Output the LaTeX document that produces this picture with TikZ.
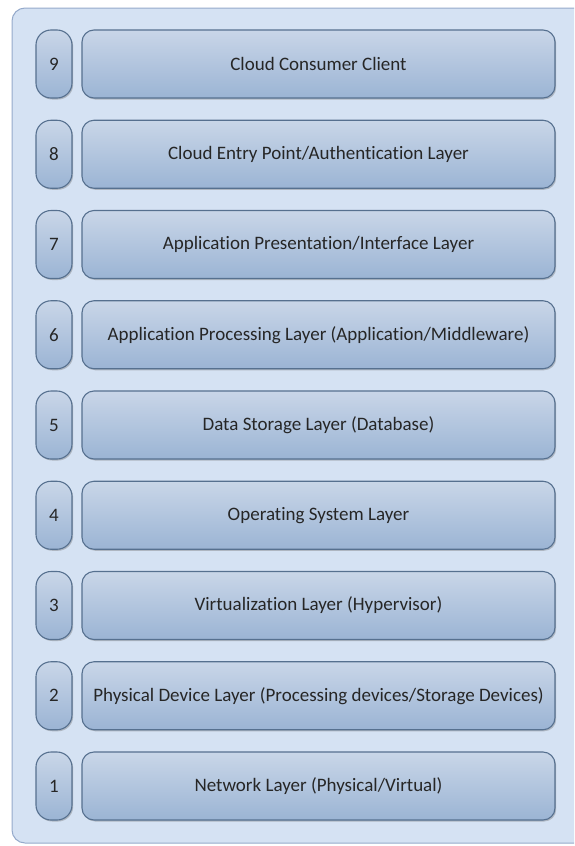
\documentclass[tikz,border=0pt]{standalone}
\usepackage{fontspec}
\setmainfont{Carlito}[Ligatures={NoCommon}]
\usetikzlibrary{shadows}
\definecolor{panelfill}{HTML}{D5E2F3}
\definecolor{panelline}{HTML}{95AACB}
\definecolor{boxtop}{HTML}{C9D6E8}
\definecolor{boxbot}{HTML}{9BB4D4}
\definecolor{boxline}{HTML}{56708F}
\definecolor{txt}{HTML}{262626}
\tikzset{
  layerbox/.style={draw=boxline, line width=1.1pt, rounded corners=12pt,
    top color=boxtop, bottom color=boxbot, minimum height=68pt,
    inner sep=0pt, text=txt, font=\fontsize{19}{21}\selectfont,
    drop shadow={shadow xshift=1.2pt, shadow yshift=-1.5pt, opacity=0.35, fill=black!60}},
  numbox/.style={layerbox, minimum width=36pt, rounded corners=15pt},
  mainbox/.style={layerbox, minimum width=473pt},
}
\begin{document}
\begin{tikzpicture}[x=1pt,y=-1pt]
\useasboundingbox (0,0) rectangle (574,846);
\clip (0,0) rectangle (574,846);
\draw[panelline, fill=panelfill, line width=1pt, rounded corners=13pt] (12,8) rectangle (600,843);
\foreach \n/\t [count=\i from 0] in {
  9/Cloud Consumer Client,
  8/Cloud Entry Point{/}Authentication Layer,
  7/Application Presentation{/}Interface Layer,
  6/Application Processing Layer (Application{/}Middleware),
  5/Data Storage Layer (Database),
  4/Operating System Layer,
  3/Virtualization Layer (Hypervisor),
  2/Physical Device Layer (Processing devices{/}Storage Devices),
  1/Network Layer (Physical{/}Virtual)} {
  \node[numbox] (n\n) at (54, 64+\i*90.25) {\n};
  \node[mainbox] (m\n) at (318.5, 64+\i*90.25) {\t};
}
\end{tikzpicture}
\end{document}
